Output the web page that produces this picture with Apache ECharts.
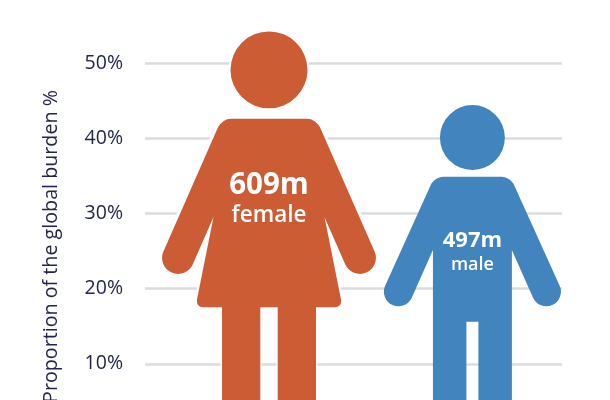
<!DOCTYPE html>
<html>
<head>
<meta charset="utf-8">
<title>Global burden by sex</title>
<script src="https://cdn.jsdelivr.net/npm/echarts@6/dist/echarts.min.js"></script>
<style>
  html, body { margin: 0; padding: 0; background: #fff; }
  #chart { width: 610px; height: 400px; }
</style>
</head>
<body>
<div id="chart"></div>
<script>
  // values
  const categories = ['female', 'male'];
  const shares = [54.2, 44.4];
  const totals = ['609m', '497m'];

  const axisTitle = 'Proportion of the global burden %';
  const inkColor = '#23264a';
  const femaleColor = '#cc5c33';
  const maleColor = '#4284be';

  const femalePath = 'path://M-38.5 38.5A38.5 38.5 0 1 1 38.5 38.5A38.5 38.5 0 1 1 -38.5 38.5Z' +
    'M-38 87.3L38 87.3Q46 87.3 51 96L105.6 220.3A16 16 0 0 1 76.2 233.1L55.5 185.7L72 268Q73 276 66 276' +
    'L47 276L47 408L8.7 408L8.7 276L-8.7 276L-8.7 408L-47 408L-47 276L-66 276Q-73 276 -72 268L-55.5 185.7' +
    'L-76.2 233.1A16 16 0 0 1 -105.6 220.3L-51 96Q-46 87.3 -38 87.3Z';
  const malePath = 'path://M-32.5 32.5A32.5 32.5 0 1 1 32.5 32.5A32.5 32.5 0 1 1 -32.5 32.5Z' +
    'M-29 71.7L29 71.7Q36 71.7 41 78.3L87.3 180.8A14.5 14.5 0 0 1 60.7 192.6L39.5 145L39.5 334L6 334' +
    'L6 216.7L-6 216.7L-6 334L-39.5 334L-39.5 145L-60.7 192.6A14.5 14.5 0 0 1 -87.3 180.8L-41 78.3Q-36 71.7 -29 71.7Z';

  const chart = echarts.init(document.getElementById('chart'), null, { renderer: 'canvas' });

  chart.setOption({
    animation: false,
    backgroundColor: '#fff',
    textStyle: { fontFamily: '"Open Sans", sans-serif' },
    // the plot runs past the window, the feet are cropped
    grid: { left: 145, right: 48, top: -12.2, bottom: -39, outerBoundsMode: 'none' },
    xAxis: { type: 'category', data: categories, show: false },
    yAxis: {
      type: 'value',
      min: 0,
      max: 60,
      interval: 10,
      axisLine: { show: false },
      axisTick: { show: false },
      axisLabel: {
        formatter: '{value}%',
        color: inkColor,
        fontSize: 19.5,
        margin: 22,
        padding: [5, 0, 0, 0],
        showMinLabel: false,
        showMaxLabel: false
      },
      splitLine: { show: true, showMinLine: false, showMaxLine: false, lineStyle: { color: '#dbdcdf', width: 2.5 } }
    },
    graphic: [{
      type: 'text',
      x: 51.5,
      y: 246.5,
      rotation: Math.PI / 2,
      style: {
        text: axisTitle,
        fill: inkColor,
        font: '19.7px "Open Sans", sans-serif',
        textAlign: 'center',
        textVerticalAlign: 'middle'
      }
    }],
    series: [
      {
        // white halo that cuts the grid lines round the female figure
        type: 'pictorialBar',
        barWidth: 200,
        barGap: '-100%',
        silent: true,
        symbolPosition: 'start',
        itemStyle: { color: '#fff', borderColor: '#fff', borderWidth: 5 },
        data: [
          { value: shares[0], symbol: femalePath, symbolSize: [213.8, '100%'], symbolOffset: [19.75, 0] },
          '-'
        ]
      },
      {
        type: 'pictorialBar',
        barWidth: 200,
        barGap: '-100%',
        symbolPosition: 'start',
        data: [
          {
            value: shares[0],
            symbol: femalePath,
            symbolSize: [213.8, '100%'],
            symbolOffset: [19.75, 0],
            itemStyle: { color: femaleColor },
            label: {
              show: true,
              position: 'insideTop',
              offset: [19.75, 132],
              formatter: `{big|${totals[0]}}\n{small|${categories[0]}}`,
              rich: {
                big: { color: '#fff', fontSize: 29.5, fontWeight: 700, lineHeight: 34 },
                small: { color: '#fff', fontSize: 22.5, fontWeight: 600, lineHeight: 26 }
              }
            }
          },
          {
            value: shares[1],
            symbol: malePath,
            symbolSize: [177, '100%'],
            symbolOffset: [14.65, 0],
            itemStyle: { color: maleColor },
            label: {
              show: true,
              position: 'insideTop',
              offset: [14.65, 118],
              formatter: `{big|${totals[1]}}\n{small|${categories[1]}}`,
              rich: {
                big: { color: '#fff', fontSize: 22, fontWeight: 700, lineHeight: 26 },
                small: { color: '#fff', fontSize: 18, fontWeight: 600, lineHeight: 21 }
              }
            }
          }
        ]
      }
    ]
  });

  window.addEventListener('resize', function () {
    chart.resize();
  });
</script>
</body>
</html>
